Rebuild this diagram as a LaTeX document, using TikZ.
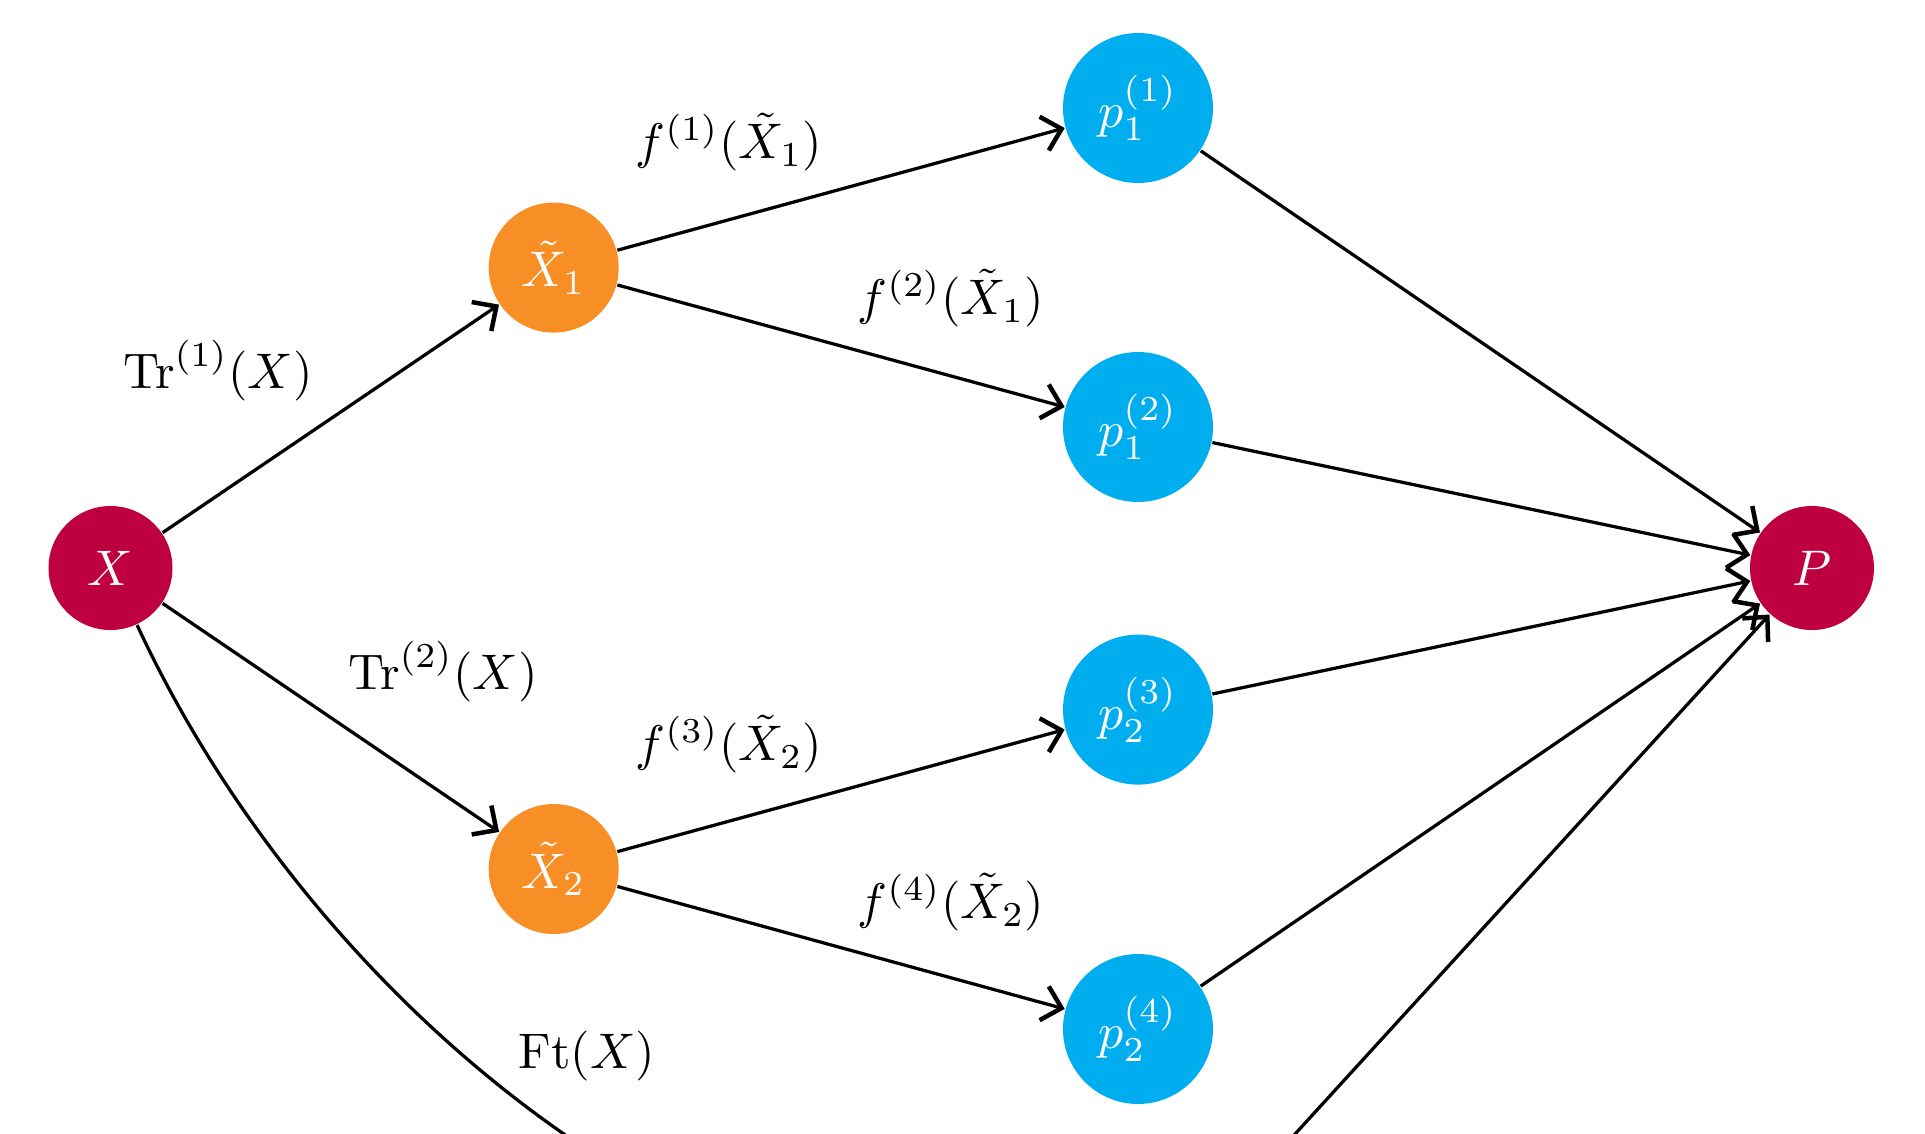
\documentclass[tikz,border=0pt]{standalone}
\usetikzlibrary{arrows.meta}
\definecolor{crim}{HTML}{BE0040}
\definecolor{orng}{HTML}{F78F26}
\definecolor{sky}{HTML}{00AEEF}
\begin{document}
\begin{tikzpicture}[x=0.2pt,y=-0.2pt,
  base/.style={circle,inner sep=0pt,text=white},
  endn/.style={base,fill=crim,minimum size=24.8pt},
  midn/.style={base,fill=orng,minimum size=26pt},
  probn/.style={base,fill=sky,minimum size=30pt},
  arr/.style={line width=0.65pt,-{Straight Barb[length=3.6pt,width=7pt,line width=0.9pt]}},
  plainline/.style={line width=0.65pt},
  lbl/.style={inner sep=0pt}]
\useasboundingbox (0,0) rectangle (1925,1134);
\clip (0,0) rectangle (1925,1134);
% nodes
\node[endn]  (X)  at (110.5,568) {$X$};
\node[midn]  (X1) at (553.7,267.6) {$\tilde X_1$};
\node[midn]  (X2) at (553.7,869) {$\tilde X_2$};
\node[probn] (p1) at (1138,108) {$p_1^{(1)}$};
\node[probn] (p2) at (1138,427) {$p_1^{(2)}$};
\node[probn] (p3) at (1138,709.6) {$p_2^{(3)}$};
\node[probn] (p4) at (1138,1029) {$p_2^{(4)}$};
\node[endn]  (P)  at (1812,568) {$P$};
\coordinate (hid) at (1138,1306);
\coordinate (hidw) at (1063,1306);
\coordinate (c1) at (292,960);
\coordinate (c2) at (650,1300);
% labels
\node[lbl] (l1) at (218,371) {$\mathrm{Tr}^{(1)}(X)$};
\node[lbl] (l2) at (443,672) {$\mathrm{Tr}^{(2)}(X)$};
\node[lbl] (l3) at (729,142) {$f^{(1)}(\tilde X_1)$};
\node[lbl] (l4) at (951,298) {$f^{(2)}(\tilde X_1)$};
\node[lbl] (l5) at (729,744) {$f^{(3)}(\tilde X_2)$};
\node[lbl] (l6) at (951,902) {$f^{(4)}(\tilde X_2)$};
\node[lbl] (l7) at (587,1056) {$\mathrm{Ft}(X)$};
% edges
\draw[arr] (X) -- (X1);
\draw[arr] (X) -- (X2);
\draw[arr] (X1) -- (p1);
\draw[arr] (X1) -- (p2);
\draw[arr] (X2) -- (p3);
\draw[arr] (X2) -- (p4);
\draw[arr] (p1) -- (P);
\draw[arr] (p2) -- (P);
\draw[arr] (p3) -- (P);
\draw[arr] (p4) -- (P);
\draw[arr] (hid) -- (P);
\draw[plainline] (X.-65) .. controls (c1) and (c2) .. (hidw);
\end{tikzpicture}
\end{document}
